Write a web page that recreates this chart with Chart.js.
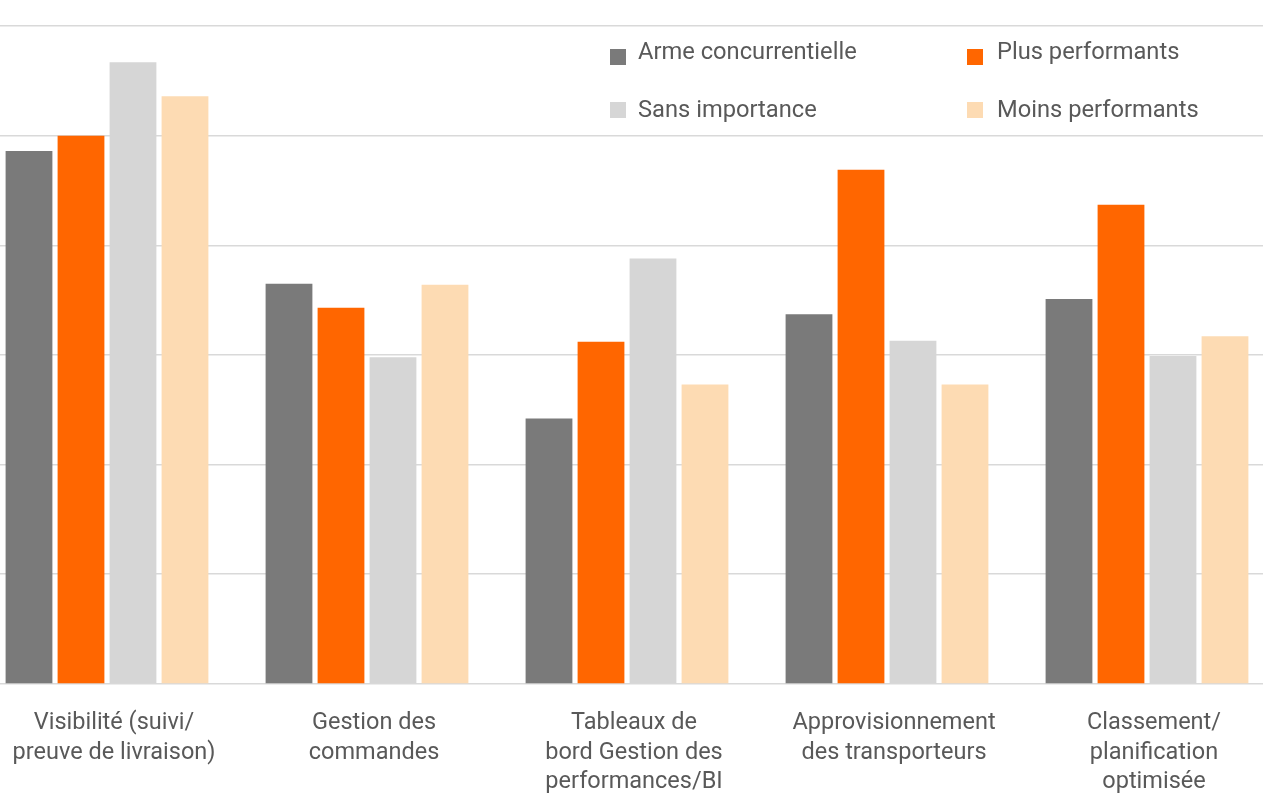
<!DOCTYPE html>
<html lang="fr">
<head>
<meta charset="utf-8">
<title>Arme concurrentielle</title>
<script src="https://cdn.jsdelivr.net/npm/chart.js@4/dist/chart.umd.min.js"></script>
<style>
  html, body { margin: 0; padding: 0; background: #fff; overflow: hidden; }
  #wrap { position: relative; width: 1263px; height: 793px; overflow: hidden; }
  #barChart { position: absolute; left: -23px; top: 0; }
</style>
</head>
<body>
<div id="wrap">
  <canvas id="barChart" width="1300" height="822"></canvas>
</div>
<script>
// categories (multi-line labels)
const categories = [
  ['Visibilité (suivi/', 'preuve de livraison)'],
  ['Gestion des', 'commandes'],
  ['Tableaux de', 'bord Gestion des', 'performances/BI'],
  ['Approvisionnement', 'des transporteurs'],
  ['Classement/', 'planification', 'optimisée']
];

// series values (%)
const armeConcurrentielle = [48.6, 36.5, 24.2, 33.7, 35.1];
const plusPerformants     = [50.0, 34.3, 31.2, 46.9, 43.7];
const sansImportance      = [56.7, 29.8, 38.8, 31.3, 29.9];
const moinsPerformants    = [53.6, 36.4, 27.3, 27.3, 31.7];

const seriesLabels = ['Arme concurrentielle', 'Plus performants', 'Sans importance', 'Moins performants'];
const seriesColors = ['#7a7a7a', '#ff6600', '#d6d6d6', '#fddbb3'];

const textColor = '#595959';
const fontFamily = 'Roboto, "Noto Sans", sans-serif';

// legend drawn inside the plot area, two columns
const legendPlugin = {
  id: 'insideLegend',
  afterDraw(chart) {
    const ctx = chart.ctx;
    // canvas is offset by -23px, so page x + 23
    const cols = [610 + 23, 967 + 23];
    const boxTop = [49, 102];
    const textBase = [59, 117];
    ctx.save();
    ctx.font = '23.7px ' + fontFamily;
    ctx.textBaseline = 'alphabetic';
    chart.data.datasets.forEach((ds, i) => {
      const col = i % 2;
      const row = Math.floor(i / 2);
      const x = cols[col];
      ctx.fillStyle = ds.backgroundColor;
      ctx.fillRect(x, boxTop[row], 16, 16);
      ctx.fillStyle = textColor;
      ctx.fillText(ds.label, x + 28 + (col ? 2 : 0), textBase[row]);
    });
    ctx.restore();
  }
};

function renderChart() {
  const ctx = document.getElementById('barChart').getContext('2d');
  const values = [armeConcurrentielle, plusPerformants, sansImportance, moinsPerformants];

  new Chart(ctx, {
    type: 'bar',
    data: {
      labels: categories,
      datasets: values.map((v, i) => ({
        label: seriesLabels[i],
        data: v,
        backgroundColor: seriesColors[i],
        borderWidth: 0,
        barPercentage: 0.9,
        categoryPercentage: 0.8
      }))
    },
    options: {
      responsive: false,
      animation: false,
      layout: { padding: { top: 26, left: 0, right: 0, bottom: 0 } },
      plugins: {
        legend: { display: false },
        tooltip: { enabled: false }
      },
      scales: {
        x: {
          grid: { display: false, drawTicks: false },
          border: { display: false },
          ticks: {
            autoSkip: false,
            maxRotation: 0,
            minRotation: 0,
            padding: 25,
            labelOffset: 7,
            color: textColor,
            font: { family: fontFamily, size: 23.5, lineHeight: 1.25 }
          }
        },
        y: {
          min: 0,
          max: 60,
          ticks: { display: false, stepSize: 10 },
          grid: { color: '#d9d9d9', lineWidth: 1.5, drawTicks: false },
          border: { display: false }
        }
      }
    },
    plugins: [legendPlugin]
  });
}

document.addEventListener('DOMContentLoaded', renderChart);
</script>
</body>
</html>
